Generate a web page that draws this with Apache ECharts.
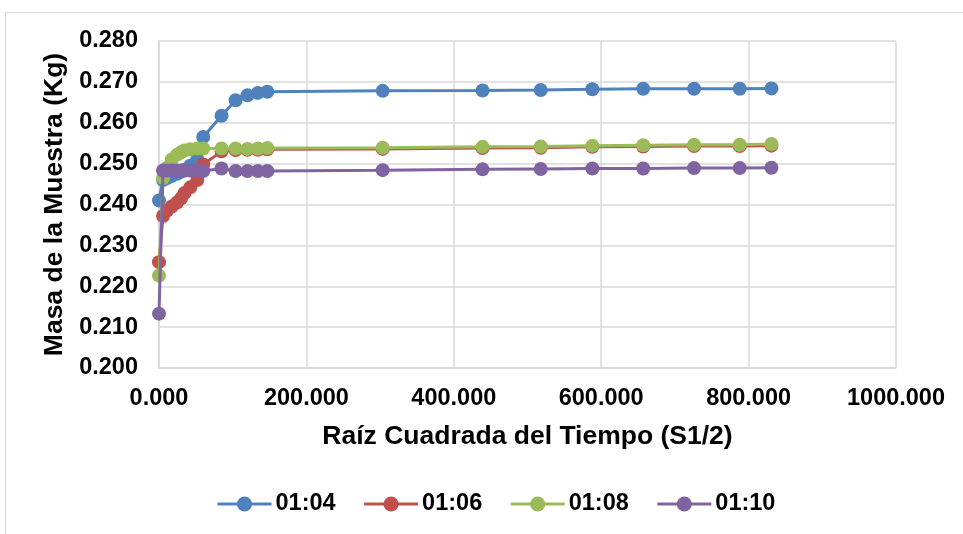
<!DOCTYPE html>
<html>
<head>
<meta charset="utf-8">
<script src="https://cdn.jsdelivr.net/npm/echarts@6/dist/echarts.min.js"></script>
<style>html,body{margin:0;padding:0;background:#fff;}#c{width:963px;height:534px;}</style>
</head>
<body>
<div id="c"></div>
<script>
var xValues = [0, 5.48, 10.95, 17.32, 24.49, 30, 34.64, 42.43, 51.96, 60, 84.85, 103.92, 120, 134.16, 146.97, 303.5, 439, 518, 588, 657, 726, 788, 831];
var s0104 = [0.2410, 0.2460, 0.2465, 0.2470, 0.2475, 0.2480, 0.2485, 0.2495, 0.2510, 0.2565, 0.2617, 0.2655, 0.2667, 0.2673, 0.2676, 0.2678, 0.2679, 0.2680, 0.2682, 0.2683, 0.2683, 0.2683, 0.2684];
var s0106 = [0.2259, 0.2372, 0.2385, 0.2395, 0.2405, 0.2415, 0.2428, 0.2442, 0.2460, 0.2498, 0.2530, 0.2533, 0.2534, 0.2534, 0.2535, 0.2536, 0.2538, 0.2539, 0.2541, 0.2542, 0.2543, 0.2543, 0.2544];
var s0108 = [0.2226, 0.2465, 0.2490, 0.2510, 0.2522, 0.2528, 0.2532, 0.2535, 0.2537, 0.2537, 0.2537, 0.2537, 0.2536, 0.2537, 0.2538, 0.2539, 0.2541, 0.2542, 0.2544, 0.2545, 0.2546, 0.2546, 0.2548];
var s0110 = [0.2133, 0.2483, 0.2483, 0.2483, 0.2483, 0.2483, 0.2483, 0.2483, 0.2483, 0.2482, 0.2488, 0.2482, 0.2482, 0.2482, 0.2482, 0.2484, 0.2486, 0.2487, 0.2488, 0.2488, 0.2489, 0.2489, 0.2490];
var seriesNames = ['01:04', '01:06', '01:08', '01:10'];
var seriesColors = ['#4f81bd', '#c0504d', '#9bbb59', '#8064a2'];
var yTicks = {min: 0.2, max: 0.28, interval: 0.01};
var xTicks = {min: 0, max: 1000, interval: 200};

function pairs(ys){ return xValues.map(function(x,i){ return [x, ys[i]]; }); }
var allData = [s0104, s0106, s0108, s0110];
var font = 'Liberation Sans, Arial, sans-serif';

var chart = echarts.init(document.getElementById('c'), null, {renderer: 'canvas'});
chart.setOption({
  animation: false,
  backgroundColor: '#fff',
  graphic: [{type: 'rect', shape: {x: 5.5, y: 12.5, width: 1000, height: 600}, style: {fill: 'none', stroke: '#d9d9d9', lineWidth: 1}, silent: true, z: -10}],
  grid: {left: 159, top: 41, right: 67, bottom: 166, containLabel: false},
  legend: {
    data: seriesNames, top: 492, left: 216, padding: 0, itemWidth: 54, itemHeight: 19, itemGap: 27,
    lineStyle: {width: 3},
    textStyle: {fontFamily: font, fontWeight: 'bold', fontSize: 23.5, color: '#000', padding: [0, 0, 0, -1]}
  },
  xAxis: {
    type: 'value', min: xTicks.min, max: xTicks.max, interval: xTicks.interval,
    name: 'Raíz Cuadrada del Tiempo (S1/2)', nameLocation: 'middle', nameGap: 55,
    nameTextStyle: {fontFamily: font, fontWeight: 'bold', fontSize: 26.5, color: '#000'},
    axisLine: {lineStyle: {color: '#d9d9d9', width: 1.5}},
    axisTick: {show: false},
    splitLine: {show: true, lineStyle: {color: '#d9d9d9', width: 1.5}},
    axisLabel: {fontFamily: font, fontWeight: 'bold', fontSize: 23.5, color: '#000', margin: 19,
      formatter: function(v){ return v.toFixed(3); }}
  },
  yAxis: {
    type: 'value', min: yTicks.min, max: yTicks.max, interval: yTicks.interval,
    name: 'Masa de la Muestra (Kg)', nameLocation: 'middle', nameGap: 79,
    nameTextStyle: {fontFamily: font, fontWeight: 'bold', fontSize: 26.5, color: '#000'},
    axisLine: {show: true, lineStyle: {color: '#d9d9d9', width: 1.5}},
    axisTick: {show: false},
    splitLine: {show: true, lineStyle: {color: '#d9d9d9', width: 1.5}},
    axisLabel: {fontFamily: font, fontWeight: 'bold', fontSize: 23.5, color: '#000', margin: 21,
      formatter: function(v){ return v.toFixed(3); }}
  },
  series: seriesNames.map(function(n, i){
    return {
      name: n, type: 'line', data: pairs(allData[i]),
      symbol: 'circle', symbolSize: 14, showSymbol: true,
      itemStyle: {color: seriesColors[i]},
      lineStyle: {color: seriesColors[i], width: 3},
      z: 2 + i
    };
  })
});
</script>
</body>
</html>
